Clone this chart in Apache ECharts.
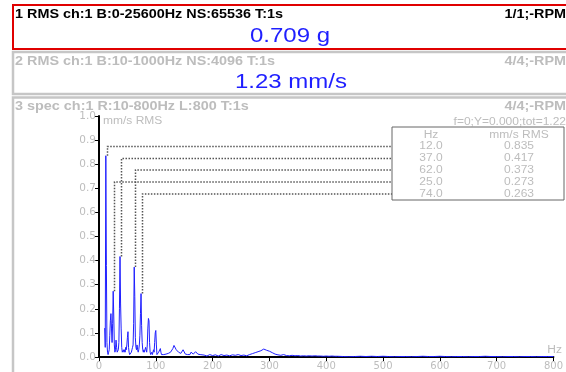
<!DOCTYPE html>
<html>
<head>
<meta charset="utf-8">
<script src="https://cdn.jsdelivr.net/npm/echarts@6/dist/echarts.min.js"></script>
<style>
  html, body { margin: 0; padding: 0; background: #fff; }
  #chart { width: 566px; height: 372px; }
</style>
</head>
<body>
<div id="chart"></div>
<script>
const PANEL_HEADERS = [
  '1 RMS ch:1 B:0-25600Hz NS:65536 T:1s',
  '2 RMS ch:1 B:10-1000Hz NS:4096 T:1s',
  '3 spec ch:1 R:10-800Hz L:800 T:1s'
];
const PANEL_PAGES = ['1/1;-RPM', '4/4;-RPM', '4/4;-RPM'];
const PANEL_VALUES = ['0.709 g', '1.23 mm/s'];
const CURSOR_TEXT = 'f=0;Y=0.000;tot=1.22';

const X_TICKS = [0, 100, 200, 300, 400, 500, 600, 700, 800];
const Y_TICKS = [0.0, 0.1, 0.2, 0.3, 0.4, 0.5, 0.6, 0.7, 0.8, 0.9, 1.0];

// peak table (Hz, mm/s RMS)
const PEAK_HZ = [12.0, 37.0, 62.0, 25.0, 74.0];
const PEAK_VAL = [0.835, 0.417, 0.373, 0.273, 0.263];

// spectrum
const SPEC_HZ = [
  10, 11, 12, 13, 14, 15, 16, 17, 18, 19, 20, 21, 22, 23, 24, 25, 26, 27, 28, 29,
  30, 31, 32, 33, 34, 35, 36, 37, 38, 39, 40, 41, 42, 43, 44, 45, 46, 47, 48, 49,
  50, 51, 52, 53, 54, 55, 56, 57, 58, 59, 60, 61, 62, 63, 64, 65, 66, 67, 68, 69,
  70, 71, 72, 73, 74, 75, 76, 77, 78, 79, 80, 81, 82, 83, 84, 85, 86, 87, 88, 89,
  90, 91, 92, 93, 94, 95, 96, 97, 98, 99, 100, 101, 102, 103, 104, 105, 106, 107, 108, 109,
  110, 112, 114, 116, 118, 120, 122, 124, 126, 128, 130, 132, 134, 136, 138, 140, 142, 144, 146, 148,
  150, 152, 154, 156, 158, 160, 162, 164, 166, 168, 170, 172, 174, 176, 178, 180,
  185, 190, 195, 200, 205, 210, 215, 220, 225, 230, 235, 240, 245, 250, 255, 260, 265, 270, 275, 280,
  285, 290, 295, 300, 305, 310, 315, 320, 325, 330, 335, 340, 345, 350, 355, 360, 365, 370, 375, 380,
  385, 390, 395, 400, 405, 410, 415, 420,
  430, 440, 450, 460, 470, 480, 490, 500, 510, 520, 530, 540, 550, 560, 570, 580, 590, 600, 610, 620,
  630, 640, 650, 660, 670, 680, 690, 700, 710, 720, 730, 740, 750, 760, 770, 780, 790, 800
];
const SPEC_VAL = [
  0.12, 0.04, 0.835, 0.38, 0.06, 0.02, 0.01, 0.02, 0.03, 0.09, 0.15, 0.18, 0.12, 0.06, 0.14, 0.273, 0.17, 0.05, 0.02, 0.03,
  0.07, 0.04, 0.02, 0.02, 0.03, 0.06, 0.2, 0.417, 0.22, 0.12, 0.04, 0.02, 0.02, 0.03, 0.02, 0.03, 0.02, 0.04, 0.03, 0.05,
  0.08, 0.105, 0.04, 0.02, 0.01, 0.015, 0.01, 0.02, 0.03, 0.04, 0.05, 0.14, 0.373, 0.25, 0.08, 0.04, 0.03, 0.05, 0.03, 0.02,
  0.03, 0.05, 0.09, 0.18, 0.263, 0.13, 0.06, 0.03, 0.02, 0.03, 0.02, 0.03, 0.04, 0.03, 0.02, 0.05, 0.12, 0.16, 0.15, 0.06,
  0.02, 0.01, 0.015, 0.02, 0.01, 0.02, 0.03, 0.02, 0.06, 0.1, 0.11, 0.05, 0.01, 0.005, 0.01, 0.02, 0.015, 0.025, 0.035, 0.02,
  0.01, 0.015, 0.01, 0.005, 0.012, 0.02, 0.015, 0.01, 0.02, 0.025, 0.035, 0.048, 0.054, 0.03, 0.038, 0.02, 0.025, 0.015, 0.02, 0.03,
  0.022, 0.012, 0.015, 0.01, 0.012, 0.01, 0.02, 0.025, 0.012, 0.01, 0.022, 0.03, 0.012, 0.006, 0.01, 0.005,
  0.008, 0.004, 0.01, 0.006, 0.009, 0.004, 0.01, 0.006, 0.008, 0.005, 0.009, 0.007, 0.01, 0.006, 0.008, 0.005, 0.01, 0.014, 0.018, 0.022,
  0.026, 0.033, 0.028, 0.024, 0.018, 0.012, 0.009, 0.007, 0.01, 0.006, 0.005, 0.007, 0.005, 0.006, 0.004, 0.005, 0.004, 0.005, 0.004, 0.005,
  0.004, 0.004, 0.003, 0.004, 0.003, 0.004, 0.003, 0.003,
  0.002, 0.001, 0.002, 0.003, 0.002, 0.003, 0.002, 0.003, 0.002, 0.001, 0.002, 0.002, 0.001, 0.002, 0.003, 0.002, 0.002, 0.003, 0.002, 0.001,
  0.002, 0.002, 0.001, 0.002, 0.002, 0.003, 0.002, 0.002, 0.001, 0.002, 0.002, 0.001, 0.002, 0.002, 0.001, 0.002, 0.002, 0.002
];

const FONT = '"Liberation Sans", Arial, sans-serif';
const AXIS_FONT = '"DejaVu Sans", sans-serif';
const GRAY = '#bdbdbd';
const BLUE = '#1f1fff';
// the screen texts are drawn a bit wider than normal
const STRETCH = 1.2;

// table box, rows line up with the leader lines
const TABLE_LEFT = 392;
const TABLE_RIGHT = 564;
const TABLE_TOP = 127;
const TABLE_HEADER_Y = 135.5;
const TABLE_ROW_Y = [146.5, 158.5, 170, 182, 194];

function text(str, x, y, font, fill, align, z) {
  return {
    type: 'text',
    silent: true,
    x,
    y,
    z: z || 0,
    scaleX: STRETCH,
    style: {
      text: str,
      x: 0,
      y: 0,
      font,
      fill,
      textAlign: align || 'left',
      verticalAlign: 'middle'
    }
  };
}

function buildPanels() {
  const els = [];
  els.push({
    type: 'rect',
    z: -1,
    shape: { x: 13, y: 5, width: 580, height: 44 },
    style: { fill: '#fff', stroke: '#e00000', lineWidth: 2 }
  });
  els.push({
    type: 'rect',
    z: -1,
    shape: { x: 13, y: 52, width: 580, height: 42 },
    style: { fill: '#fff', stroke: '#c6c6c6', lineWidth: 2.5 }
  });
  els.push({
    type: 'rect',
    z: -1,
    shape: { x: 13, y: 97.5, width: 580, height: 300 },
    style: { fill: '#fff', stroke: '#c6c6c6', lineWidth: 2.5 }
  });
  els.push(text(PANEL_HEADERS[0], 15, 15, 'bold 12px ' + FONT, '#000'));
  els.push(text(PANEL_PAGES[0], 566, 15, 'bold 12px ' + FONT, '#000', 'right'));
  els.push(text(PANEL_VALUES[0], 290, 36, '20px ' + FONT, BLUE, 'center'));
  els.push(text(PANEL_HEADERS[1], 15, 62, 'bold 12px ' + FONT, GRAY));
  els.push(text(PANEL_PAGES[1], 566, 62, 'bold 12px ' + FONT, GRAY, 'right'));
  els.push(text(PANEL_VALUES[1], 291, 82, '20px ' + FONT, BLUE, 'center'));
  els.push(text(PANEL_HEADERS[2], 15, 107, 'bold 12px ' + FONT, GRAY));
  els.push(text(PANEL_PAGES[2], 566, 107, 'bold 12px ' + FONT, GRAY, 'right'));
  els.push(text(CURSOR_TEXT, 566, 122, '10px ' + FONT, GRAY, 'right'));
  els.push(text('mm/s RMS', 103, 121.5, '10px ' + FONT, GRAY));
  els.push(text('Hz', 562, 350, '10px ' + FONT, GRAY, 'right'));
  return els;
}

function buildTable(chart) {
  const els = [];
  const bottom = TABLE_ROW_Y[TABLE_ROW_Y.length - 1] + 6;
  els.push({
    type: 'rect',
    z: 10,
    shape: { x: TABLE_LEFT, y: TABLE_TOP, width: TABLE_RIGHT - TABLE_LEFT, height: bottom - TABLE_TOP },
    style: { fill: '#fff', stroke: '#666', lineWidth: 1 }
  });
  const colHz = 431;
  const colVal = 519;
  const f = '10px ' + FONT;
  els.push(text('Hz', colHz, TABLE_HEADER_Y, f, GRAY, 'center', 11));
  els.push(text('mm/s RMS', colVal, TABLE_HEADER_Y, f, GRAY, 'center', 11));
  PEAK_HZ.forEach((hz, i) => {
    const rowY = TABLE_ROW_Y[i];
    els.push(text(hz.toFixed(1), colHz, rowY, f, GRAY, 'center', 11));
    els.push(text(PEAK_VAL[i].toFixed(3), colVal, rowY, f, GRAY, 'center', 11));
    const p = chart.convertToPixel({ gridIndex: 0 }, [hz, PEAK_VAL[i]]);
    const px = Math.round(p[0]) + 1.5;
    els.push({
      type: 'polyline',
      z: 9,
      silent: true,
      shape: { points: [[px, p[1]], [px, rowY], [TABLE_LEFT, rowY]] },
      style: { stroke: '#555', lineWidth: 1.5, lineDash: [1.5, 1.5], fill: null }
    });
  });
  return els;
}

document.addEventListener('DOMContentLoaded', () => {
  const chart = echarts.init(document.getElementById('chart'), null, { renderer: 'canvas' });

  const data = SPEC_HZ.map((hz, i) => [hz, SPEC_VAL[i]]);

  chart.setOption({
    animation: false,
    backgroundColor: '#fff',
    grid: { left: 99, right: 5, top: 116, bottom: 15, containLabel: false },
    xAxis: {
      type: 'value',
      min: X_TICKS[0],
      max: X_TICKS[X_TICKS.length - 1],
      interval: 100,
      axisLine: { lineStyle: { color: '#000', width: 2 } },
      axisTick: { show: true, length: 4, lineStyle: { color: '#000', width: 1 } },
      axisLabel: { color: GRAY, fontSize: 10, fontFamily: AXIS_FONT, margin: 4, showMaxLabel: true },
      splitLine: { show: false }
    },
    yAxis: {
      type: 'value',
      min: Y_TICKS[0],
      max: Y_TICKS[Y_TICKS.length - 1],
      interval: 0.1,
      axisLine: { show: true, lineStyle: { color: '#000', width: 2 } },
      axisTick: { show: true, length: 4, lineStyle: { color: '#000', width: 1 } },
      axisLabel: {
        color: GRAY,
        fontSize: 10.5,
        fontFamily: AXIS_FONT,
        margin: 3,
        formatter: (v) => Number(v).toFixed(1)
      },
      splitLine: { show: false }
    },
    series: [
      {
        type: 'line',
        data,
        symbol: 'none',
        smooth: false,
        z: 5,
        lineStyle: { color: BLUE, width: 1 }
      }
    ],
    graphic: buildPanels()
  });

  chart.setOption({ graphic: buildPanels().concat(buildTable(chart)) }, { replaceMerge: ['graphic'] });
});
</script>
</body>
</html>
